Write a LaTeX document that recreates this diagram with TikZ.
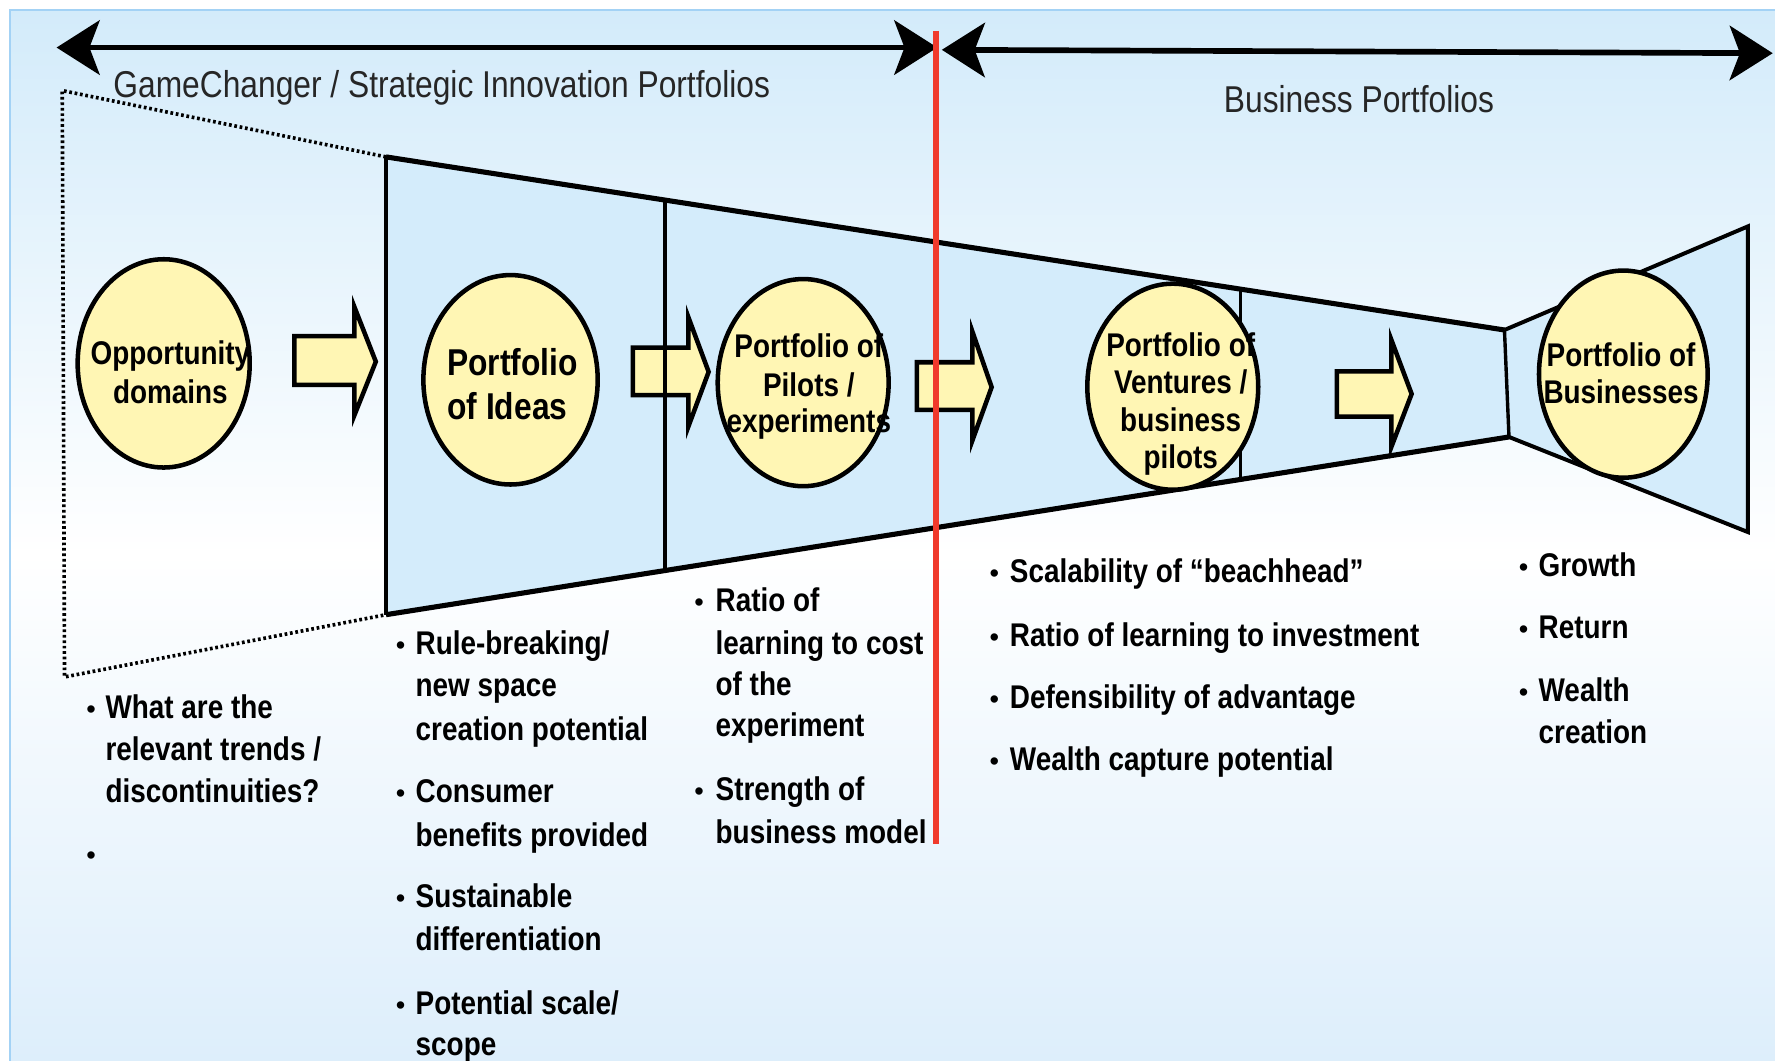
\documentclass[tikz,border=0pt]{standalone}
\usepackage{fontspec}
\setmainfont{Liberation Sans}
\newfontfamily\nfont[FakeStretch=0.85]{Liberation Sans}
\usetikzlibrary{arrows.meta,shapes.geometric}
\definecolor{bgtop}{HTML}{D3EBFA}
\definecolor{bgbot}{HTML}{DDEEFB}
\definecolor{bgedge}{HTML}{A3D2F5}
\definecolor{funnelfill}{HTML}{D4ECFB}
\definecolor{ellfill}{HTML}{FFF6B4}
\definecolor{redl}{HTML}{F03A2C}
\definecolor{hdgray}{HTML}{262626}
\begin{document}
\begin{tikzpicture}[x=1pt,y=-1pt,
  hd/.style={font=\nfont\fontsize{33}{33}\selectfont, text=hdgray, anchor=base west, inner sep=0pt},
  et/.style={font=\nfont\bfseries\fontsize{29}{29}\selectfont, anchor=base, inner sep=0pt},
  etl/.style={font=\nfont\bfseries\fontsize{33}{33}\selectfont, anchor=base west, inner sep=0pt},
  bt/.style={font=\nfont\bfseries\fontsize{29}{29}\selectfont, anchor=base west, inner sep=0pt, text=black},
  bul/.style={font=\fontsize{24}{24}\selectfont, anchor=base, inner sep=0pt},
  ell/.style={ellipse, draw, line width=4pt, fill=ellfill, inner sep=0pt},
  barrow/.style={draw, line width=4pt, fill=ellfill, line join=miter, miter limit=8},
  fedge/.style={line width=4.5pt},
  thinedge/.style={line width=3pt},
  harrow/.style={line width=5pt, {Stealth[length=38pt,width=48pt,inset=9pt]}-{Stealth[length=38pt,width=48pt,inset=9pt]}},
  dotline/.style={line width=3.2pt, dash pattern=on 2.4pt off 2.4pt}
]
\useasboundingbox (0,0) rectangle (1568,937);
% background
\fill[white] (0,0) rectangle (1568,937);
\shade[top color=bgtop, bottom color=white] (9,9) rectangle (1568,490);
\shade[top color=white, bottom color=bgbot] (9,489) rectangle (1568,937);
\draw[bgedge, line width=1.5pt] (9,937) -- (9,9) -- (1568,9);

% coordinates of the funnel
\coordinate (ftl) at (341,138.6);
\coordinate (fbl) at (341,543);
\coordinate (ftr) at (1329,291.5);
\coordinate (fbr) at (1333,386);
\coordinate (rtr) at (1544,200);
\coordinate (rbr) at (1544,470);
\coordinate (dtl) at (55,80);
\coordinate (dbl) at (57,598);

% dotted opportunity outline
\draw[dotline] (ftl) -- (dtl) -- (dbl) -- (fbl);

% funnel fills
\fill[funnelfill] (ftl) -- (ftr) -- (fbr) -- (fbl) -- cycle;
\fill[funnelfill] (ftr) -- (rtr) -- (rbr) -- (fbr) -- cycle;
% funnel edges
\draw[fedge] (ftl) -- (ftr);
\draw[fedge] (fbl) -- (fbr);
\draw[thinedge] (ftl) -- (fbl);
\draw[thinedge] (ftr) -- (fbr);
\draw[line width=3.5pt, line join=miter] (ftr) -- (rtr) -- (rbr) -- (fbr);

% block arrows
\draw[barrow] (260,297) -- (313,297) -- (313,271) -- (332,319.5) -- (313,367) -- (313,340) -- (260,340) -- cycle;
\draw[barrow] (559,307) -- (608,307) -- (608,280) -- (626,328.5) -- (608,377) -- (608,349) -- (559,349) -- cycle;
\draw[barrow] (810,320) -- (859,320) -- (859,293) -- (876,342) -- (859,389) -- (859,362) -- (810,362) -- cycle;
\draw[barrow] (1181,328) -- (1229,328) -- (1229,300) -- (1247,348) -- (1229,395) -- (1229,368) -- (1181,368) -- cycle;

% dividers
\coordinate (d1t) at (587.5,176.5);
\coordinate (d1b) at (587.5,504);
\coordinate (d2t) at (1096,255.5);
\coordinate (d2b) at (1096,423);
\draw[thinedge] (d1t) -- (d1b);
\draw[thinedge] (d2t) -- (d2b);

% ellipses
\node[ell, minimum width=152pt, minimum height=184pt] (e1) at (144.6,321) {};
\node[ell, minimum width=154pt, minimum height=185pt] (e2) at (451,335.5) {};
\node[ell, minimum width=151pt, minimum height=183pt] (e3) at (709.5,338) {};
\node[ell, minimum width=151pt, minimum height=182pt] (e4) at (1036,341.6) {};
\node[ell, minimum width=149pt, minimum height=183pt] (e5) at (1434,330.5) {};

% ellipse texts
\node[et] (e1a) at (150.5,322) {Opportunity};
\node[et] (e1b) at (150.5,356) {domains};
\node[etl] (e2a) at (395,332) {Portfolio};
\node[etl] (e2b) at (395,371) {of Ideas};
\node[et] (e3a) at (714.5,316) {Portfolio of};
\node[et] (e3b) at (714.5,350) {Pilots /};
\node[et] (e3c) at (714.5,382) {experiments};
\node[et] (e4a) at (1043,315) {Portfolio of};
\node[et] (e4b) at (1043,348) {Ventures /};
\node[et] (e4c) at (1043,381) {business};
\node[et] (e4d) at (1043,414) {pilots};
\node[et] (e5a) at (1432,324) {Portfolio of};
\node[et] (e5b) at (1432,356) {Businesses};

% header arrows and titles
\coordinate (a1l) at (50,42);
\coordinate (a1r) at (828,42);
\coordinate (a2l) at (832,44);
\coordinate (a2r) at (1566,47);
\draw[harrow] (a1l) -- (a1r);
\draw[harrow] (a2l) -- (a2r);
\node[hd] (t1) at (100,86) {GameChanger / Strategic Innovation Portfolios};
\node[hd] (t2) at (1081,99) {Business Portfolios};

% column 1
\node[bul] (c1b1) at (80.5,634.6) {•};
\node[bt] (c1l1) at (93,634.6) {What are the};
\node[bt] (c1l2) at (93,671.6) {relevant trends /};
\node[bt] (c1l3) at (93,708.6) {discontinuities?};
\node[bul] (c1b2) at (80.5,763.6) {•};

% column 2
\node[bul] (c2b1) at (354,578.6) {•};
\node[bt] (c2l1) at (367,578.6) {Rule-breaking/};
\node[bt] (c2l2) at (367,615.4) {new space};
\node[bt] (c2l3) at (367,653.7) {creation potential};
\node[bul] (c2b2) at (354,709) {•};
\node[bt] (c2l4) at (367,709) {Consumer};
\node[bt] (c2l5) at (367,747.4) {benefits provided};
\node[bul] (c2b3) at (354,802) {•};
\node[bt] (c2l6) at (367,802) {Sustainable};
\node[bt] (c2l7) at (367,839.8) {differentiation};
\node[bul] (c2b4) at (354,895.8) {•};
\node[bt] (c2l8) at (367,895.8) {Potential scale/};
\node[bt] (c2l9) at (367,932.6) {scope};

% column 3
\node[bul] (c3b1) at (617.5,540.4) {•};
\node[bt] (c3l1) at (632,540.4) {Ratio of};
\node[bt] (c3l2) at (632,578) {learning to cost};
\node[bt] (c3l3) at (632,614.6) {of the};
\node[bt] (c3l4) at (632,650.8) {experiment};
\node[bul] (c3b2) at (617.5,706.7) {•};
\node[bt] (c3l5) at (632,706.7) {Strength of};
\node[bt] (c3l6) at (632,744.9) {business model};

% column 4
\node[bul] (c4b1) at (878.4,515) {•};
\node[bt] (c4l1) at (892,515) {Scalability of “beachhead”};
\node[bul] (c4b2) at (878.4,571) {•};
\node[bt] (c4l2) at (892,571) {Ratio of learning to investment};
\node[bul] (c4b3) at (878.4,625.5) {•};
\node[bt] (c4l3) at (892,625.5) {Defensibility of advantage};
\node[bul] (c4b4) at (878.4,680.8) {•};
\node[bt] (c4l4) at (892,680.8) {Wealth capture potential};

% column 5
\node[bul] (c5b1) at (1346,509) {•};
\node[bt] (c5l1) at (1359,509) {Growth};
\node[bul] (c5b2) at (1346,563.8) {•};
\node[bt] (c5l2) at (1359,563.8) {Return};
\node[bul] (c5b3) at (1346,619.9) {•};
\node[bt] (c5l3) at (1359,619.9) {Wealth};
\node[bt] (c5l4) at (1359,656.5) {creation};

% red divider
\coordinate (rtop) at (827,27);
\coordinate (rbot) at (827,746);
\draw[redl, line width=5pt] (rtop) -- (rbot);
\end{tikzpicture}
\end{document}
